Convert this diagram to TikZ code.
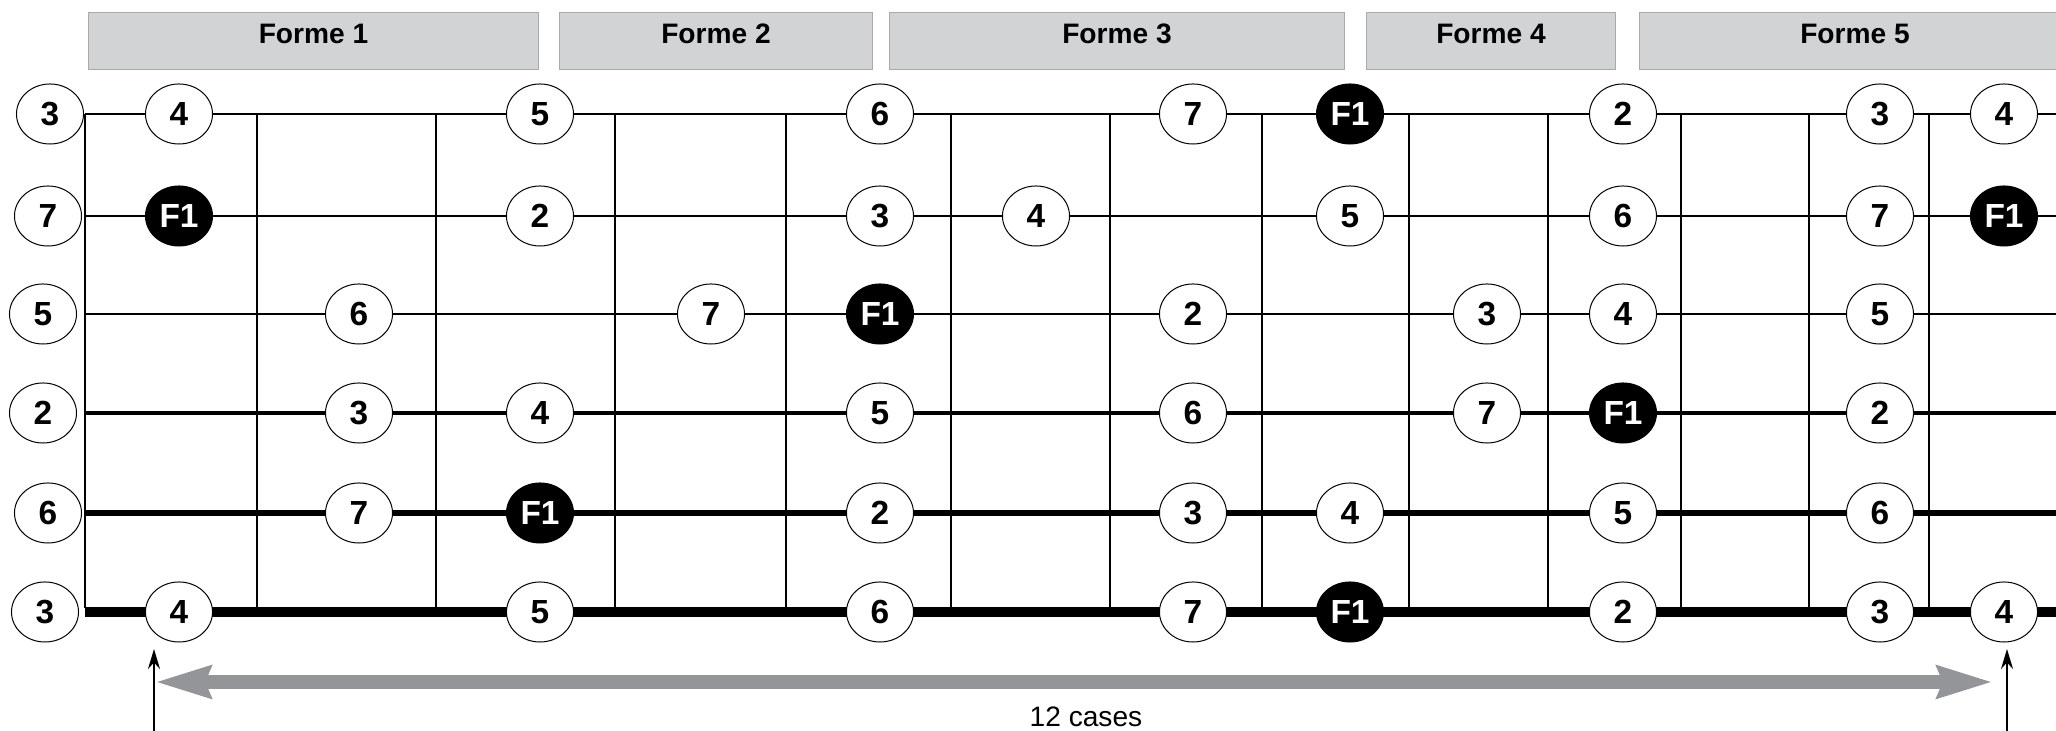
\documentclass[tikz,border=0pt]{standalone}
\usepackage{fontspec}
\setmainfont{Liberation Sans}
\usetikzlibrary{arrows.meta,shapes.geometric}

\definecolor{formefill}{HTML}{D1D3D4}
\definecolor{formeline}{HTML}{A7A9AC}
\definecolor{flechegris}{HTML}{939598}

\tikzset{
  note/.style={ellipse, draw=black, line width=0.01cm, fill=white,
    minimum width=0.67cm, minimum height=0.6cm, inner sep=0pt,
    font=\fontsize{9.5}{9.5}\selectfont\bfseries},
  degF1/.style={fill=black, text=white},
  forme/.style={rectangle, draw=formeline, fill=formefill, line width=0.01cm,
    minimum height=0.56cm, inner sep=0pt, text height=0.2cm, text depth=0.14cm,
    font=\fontsize{8}{8}\selectfont\bfseries},
  frette/.style={line width=0.025cm},
  grandeFleche/.style={draw=flechegris, line width=0.14cm,
    {Stealth[length=0.55cm, width=0.31cm, inset=0.05cm]}-{Stealth[length=0.55cm, width=0.31cm, inset=0.05cm]}},
  petiteFleche/.style={line width=0.02cm, -{Stealth[length=0.2cm, width=0.12cm]}}
}

\begin{document}
\begin{tikzpicture}[x=0.01cm, y=-0.01cm]
 \clip (0,0) rectangle (2056,731);

 % Formes
 \node[forme, minimum width=4.49cm] (forme1) at (313.5,41) {Forme 1};
 \node[forme, minimum width=3.12cm] (forme2) at (716,41) {Forme 2};
 \node[forme, minimum width=4.54cm] (forme3) at (1117,41) {Forme 3};
 \node[forme, minimum width=2.48cm] (forme4) at (1491,41) {Forme 4};
 \node[forme, minimum width=4.30cm] (forme5) at (1855,41) {Forme 5};

 % Cordes
 \foreach \y/\w in {114/0.012cm, 216/0.012cm, 314/0.015cm, 413/0.045cm, 513/0.065cm, 612/0.095cm}
  \draw[line width=\w] (85,\y) -- (2060,\y);

 % Frettes
 \foreach \x in {85,257,436,615,786,951,1110,1262,1409,1548,1681,1809,1929}
  \draw[frette] (\x,114) -- (\x,608);

 % Cordes a vide
 \foreach \s/\x/\y/\d in {1/50/114/3, 2/48/216/7, 3/43/314/5, 4/43/413/2, 5/48/513/6, 6/45/612/3}
  \node[note] (c\s-0) at (\x,\y) {\d};

 % Notes de la gamme (case/degre)
 \def\casex{{0,179,359,540,711,880,1036,1193,1350,1487,1623,1750,1880,2004}}
 \foreach \s/\y/\notes in {
   1/114/{1/4,3/5,5/6,7/7,8/F1,10/2,12/3,13/4},
   2/216/{1/F1,3/2,5/3,6/4,8/5,10/6,12/7,13/F1},
   3/314/{2/6,4/7,5/F1,7/2,9/3,10/4,12/5},
   4/413/{2/3,3/4,5/5,7/6,9/7,10/F1,12/2},
   5/513/{2/7,3/F1,5/2,7/3,8/4,10/5,12/6},
   6/612/{1/4,3/5,5/6,7/7,8/F1,10/2,12/3,13/4}}{
  \foreach \f/\d in \notes {
   \pgfmathsetmacro\xx{\casex[\f]}
   \node[note, deg\d/.try] (c\s-\f) at (\xx,\y) {\d};
  }
 }

 % Fleches
 \coordinate (case1-bas) at (154,740);
 \coordinate (case1-haut) at (154,649);
 \coordinate (case13-bas) at (2007,740);
 \coordinate (case13-haut) at (2007,649);
 \coordinate (ecart-g) at (155,682);
 \coordinate (ecart-d) at (1993,682);
 \draw[petiteFleche] (case1-bas) -- (case1-haut);
 \draw[petiteFleche] (case13-bas) -- (case13-haut);
 \draw[grandeFleche] (ecart-g) -- (ecart-d);
 \node[font=\fontsize{8}{8}\selectfont] (cases) at (1086,717) {12 cases};
\end{tikzpicture}
\end{document}
